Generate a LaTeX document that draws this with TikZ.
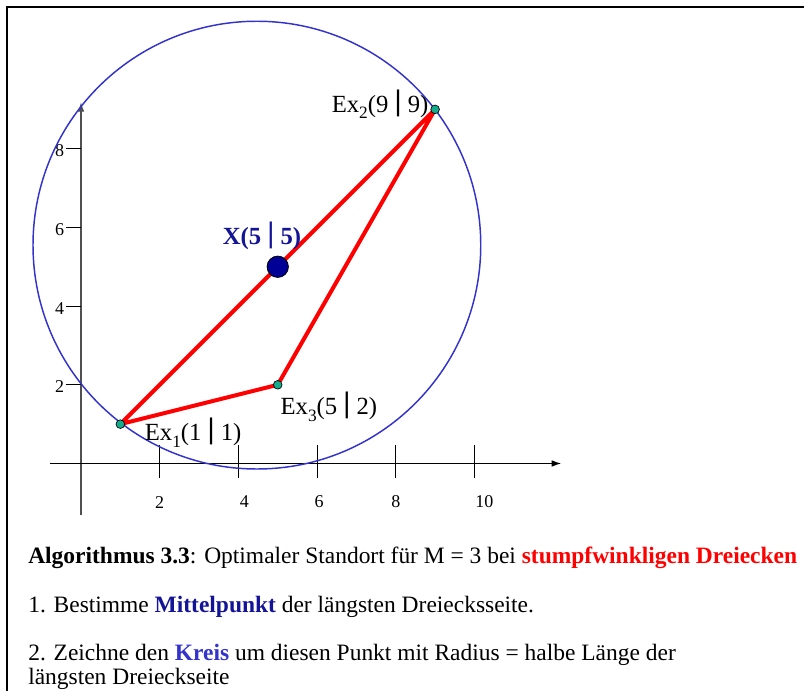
\documentclass[tikz,border=0pt]{standalone}
\usepackage{fontspec}
\setmainfont{Liberation Serif}
\usetikzlibrary{arrows.meta}
\definecolor{circblue}{RGB}{51,51,204}
\definecolor{ptnavy}{RGB}{0,0,150}
\definecolor{lblblue}{RGB}{20,20,150}
\definecolor{kreisblue}{RGB}{51,51,204}
\definecolor{ptteal}{RGB}{20,170,140}
\definecolor{axgray}{RGB}{80,80,80}
\tikzset{
  frameline/.style={line width=1.7pt},
  axisline/.style={line width=0.8pt,-{Latex[length=7pt,width=5pt]}},
  tickline/.style={line width=0.8pt},
  tri/.style={red,line width=3pt},
  circ/.style={circblue,line width=1.1pt},
  expt/.style={circle,draw=black,fill=ptteal,inner sep=0pt,minimum size=6.5pt,line width=0.5pt},
  xpt/.style={circle,draw=black,fill=ptnavy,inner sep=0pt,minimum size=16pt,line width=0.6pt},
  ptlabel/.style={font=\fontsize{18.5}{22}\selectfont,inner sep=0pt},
  ticklabel/.style={font=\fontsize{13.5}{16}\selectfont,inner sep=0pt},
  txt/.style={font=\fontsize{17.6}{20}\selectfont,inner sep=0pt,anchor=base west}
}
\newcommand{\vbar}{ {\bfseries\raisebox{0.08em}{\scalebox{1.3}[1.2]{|}}} }
\newcommand{\subidx}[1]{\raisebox{-0.28em}{\fontsize{13}{15}\selectfont #1}}
\begin{document}
\begin{tikzpicture}[x=0.75pt,y=-0.75pt]
\useasboundingbox (0,0) rectangle (804,691);
% frame
\coordinate (fbl) at (7,691);
\coordinate (ftl) at (7,7);
\coordinate (ftr) at (804,7);
\draw[frameline] (fbl) -- (ftl) -- (ftr);
\begin{scope}[shift={(81,463.5)},x=29.51pt,y=29.51pt]
  % axes
  \coordinate (yb) at (0,-1.32);
  \coordinate (yt) at (0,9.18);
  \coordinate (xl) at (-0.79,0);
  \coordinate (xr) at (12.2,0);
  \draw[axisline,axgray] (yb) -- (yt);
  \draw[axisline] (xl) -- (xr);
  \foreach \v/\lx in {2/2.0,4/4.15,6/6.05,8/8.0,10/10.25}{
    \draw[tickline] (\v,-0.36) -- (\v,0.46);
    \node[ticklabel] (xl\v) at (\lx,-0.98) {\v};
  }
  \foreach \v in {2,4,6,8}{
    \draw[tickline] (-0.39,\v) -- (0,\v);
    \node[ticklabel,anchor=east] (yl\v) at (-0.42,\v-0.05) {\v};
  }
  % circle
  \coordinate (cc) at (4.47,5.55);
  \draw[circ] (cc) circle[radius=5.69];
  % points
  \coordinate (p1) at (1,1);
  \coordinate (p2) at (9,9);
  \coordinate (p3) at (5,2);
  \coordinate (px) at (5,5);
  \draw[tri,line join=round] (p1) -- (p2) -- (p3) -- cycle;
  \node[expt] (e1) at (p1) {};
  \node[expt] (e2) at (p2) {};
  \node[expt] (e3) at (p3) {};
  \node[xpt] (x) at (px) {};
  % labels
  \node[ptlabel,font=\fontsize{18.5}{22}\selectfont\bfseries,text=lblblue] (lx) at (4.6,5.78) {X(5\vbar 5)};
  \node[ptlabel] (l2) at (7.6,9.13) {Ex\subidx{2}(9\vbar 9)};
  \node[ptlabel] (l3) at (6.3,1.43) {Ex\subidx{3}(5\vbar 2)};
  \node[ptlabel] (l1) at (2.85,0.78) {Ex\subidx{1}(1\vbar 1)};
\end{scope}
% text
\node[txt] (t1) at (28,564) {\textbf{Algorithmus 3.3}: Optimaler Standort für M = 3 bei \textbf{\textcolor{red}{stumpfwinkligen Dreiecken}}};
\node[txt] (t2) at (28,613) {1. Bestimme \textbf{\textcolor{lblblue}{Mittelpunkt}} der längsten Dreiecksseite.};
\node[txt] (t3) at (28,661) {2. Zeichne den \textbf{\textcolor{kreisblue}{Kreis}} um diesen Punkt mit Radius = halbe Länge der};
\node[txt] (t4) at (28,685) {längsten Dreieckseite};
\end{tikzpicture}
\end{document}
